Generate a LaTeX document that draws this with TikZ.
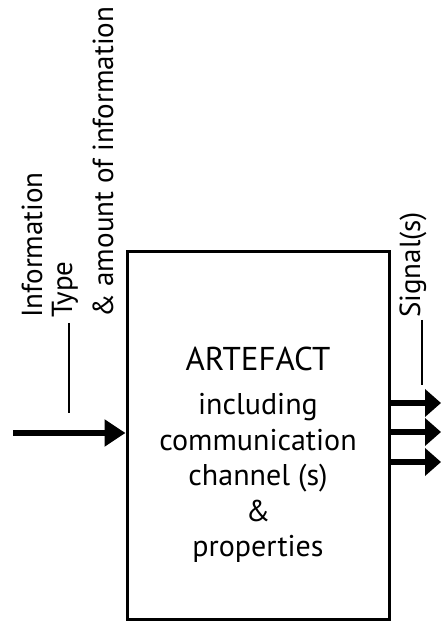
\documentclass[tikz,border=0pt]{standalone}
\usepackage{fontspec}
\setmainfont{PT Sans}
\usepackage{tikz}
\usetikzlibrary{arrows.meta}

\begin{document}
\begin{tikzpicture}[x=1pt,y=1pt]
	\useasboundingbox (0,0) rectangle (441,623);
	\node [draw,line width=3pt,minimum width=262pt,minimum height=368pt,inner sep=0pt] (art) at (258,187) {};
	\node [align=center,font=\fontsize{30}{35.5}\selectfont] (txt) at (258,168) {{\fontsize{33}{36}\selectfont ARTEFACT}\\[9pt]including\\communication\\channel (s)\\\&\\properties};
	
	\begin{scope}[every node/.style={rotate=90,anchor=west,inner sep=0pt,font=\fontsize{29}{34}\selectfont}]
		\node (info) at (32,305) {Information};
		\node (type) at (65,305) {Type};
		\node (amount) at (103,305) {\& amount of information};
		\node (sig) at (413,305) {Signal(s)};
	\end{scope}
	
	\coordinate (in) at (13,190);
	\coordinate (typeA) at (69,300);
	\coordinate (typeB) at (69,210);
	\coordinate (sigA) at (422,303);
	\coordinate (sigB) at (422,238);
	
	\begin{scope}[line width=6pt]
		\path [-{Triangle[length=21pt,width=26pt]}] (in) edge (art.west |- in);
		\foreach \y/\n in {220/1,191/2,161/3}{
			\coordinate (out\n) at (441,\y);
			\path [-{Triangle[length=16pt,width=27pt]}] (art.east |- out\n) edge (out\n);
		}
	\end{scope}
	
	\draw [line width=1.8pt] (typeA) -- (typeB);
	\draw [line width=1.8pt] (sigA) -- (sigB);
\end{tikzpicture}
\end{document}
